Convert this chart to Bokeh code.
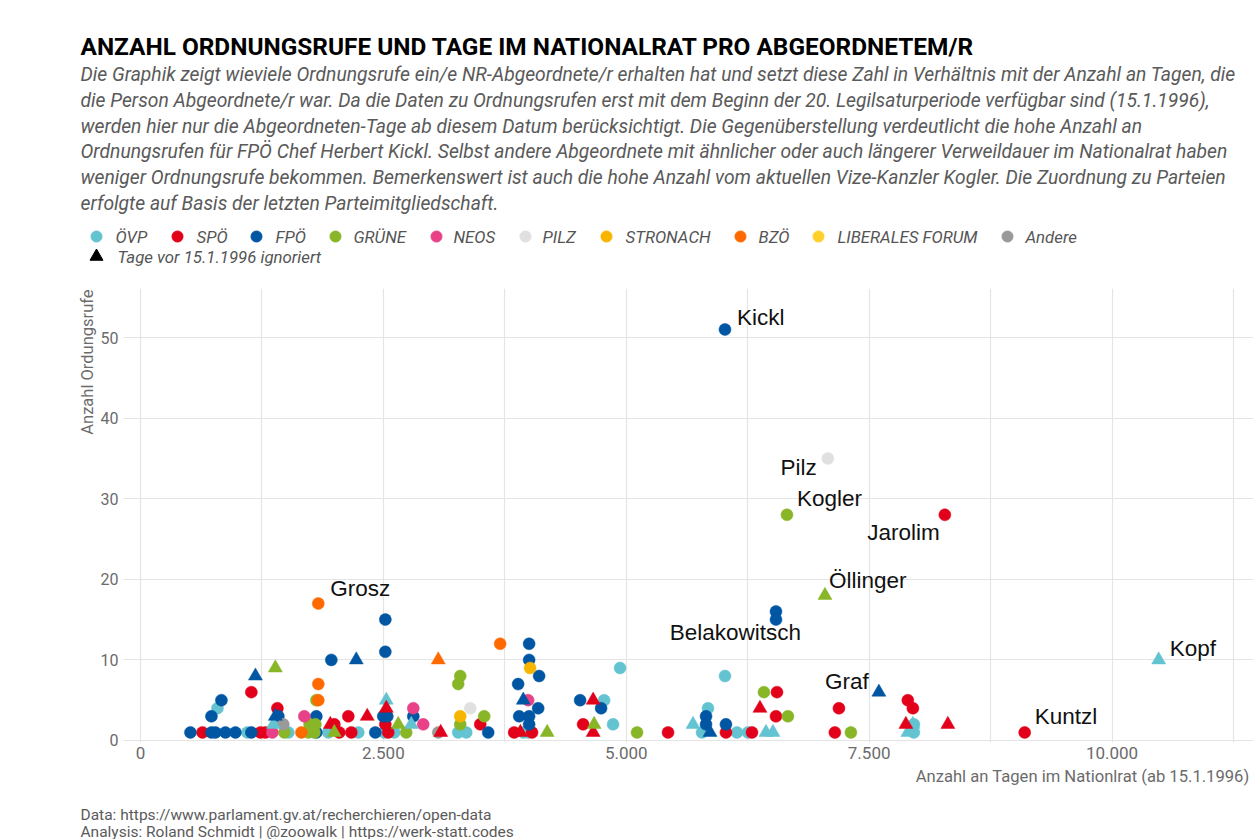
from bokeh.plotting import figure
from bokeh.layouts import column, row
from bokeh.models import ColumnDataSource, FixedTicker, Range1d
from bokeh.transform import factor_cmap
from bokeh.core.properties import value
from bokeh.embed import file_html
from bokeh.resources import INLINE

# ---------------- data: (days since 15.1.1996, calls to order, days before 1996 ignored) -------------
PARTIES = ["ÖVP", "SPÖ", "FPÖ", "GRÜNE", "NEOS", "PILZ", "STRONACH", "BZÖ", "LIBERALES FORUM", "Andere"]
COLORS = ["#63C3D1", "#E2001A", "#0056A2", "#88B626", "#E84188", "#E0E0E0", "#F7B500", "#FF6A00", "#FFD02A", "#999999"]

OEVP = [(792, 4, 0), (1100, 1, 0), (1522, 1, 0), (1933, 1, 0), (2242, 1, 0), (2509, 1, 0), (2612, 1, 0),
        (3270, 1, 0), (3353, 1, 0), (3940, 1, 0), (3990, 1, 0), (4772, 5, 0), (4864, 2, 0), (4936, 9, 0),
        (5780, 1, 0), (5841, 4, 0), (6016, 8, 0), (6139, 1, 0), (6253, 1, 0), (7960, 1, 0), (7960, 2, 0),
        (1368, 2, 1), (2530, 5, 1), (2787, 2, 1), (5687, 2, 1), (6438, 1, 1), (6510, 1, 1), (7898, 1, 1),
        (7950, 2, 1), (10480, 10, 1)]
SPOE = [(638, 1, 0), (1141, 6, 0), (1234, 1, 0), (1285, 1, 0), (1409, 4, 0), (1995, 2, 0), (2046, 1, 0),
        (2139, 3, 0), (2170, 1, 0), (2520, 2, 0), (2550, 1, 0), (3497, 2, 0), (3846, 1, 0), (4030, 1, 0),
        (4556, 2, 0), (5430, 1, 0), (6026, 1, 0), (6294, 1, 0), (6541, 3, 0), (6551, 6, 0), (7147, 1, 0),
        (7189, 4, 0), (7898, 5, 0), (7950, 4, 0), (8279, 28, 0), (9101, 1, 0),
        (1954, 2, 1), (2334, 3, 1), (2530, 4, 1), (3090, 1, 1), (3910, 1, 1), (4659, 5, 1), (4659, 1, 1),
        (6376, 4, 1), (7878, 2, 1), (8310, 2, 1)]
FPOE = [(514, 1, 0), (730, 1, 0), (771, 1, 0), (874, 1, 0), (977, 1, 0), (730, 3, 0), (833, 5, 0),
        (1141, 1, 0), (1419, 3, 0), (1810, 3, 0), (1810, 1, 0), (1964, 10, 0), (2417, 1, 0), (2499, 3, 0),
        (2540, 3, 0), (2520, 15, 0), (2520, 11, 0), (2808, 3, 0), (3579, 1, 0), (3887, 7, 0), (3898, 3, 0),
        (4000, 3, 0), (4000, 12, 0), (4000, 10, 0), (4103, 8, 0), (4093, 4, 0), (4000, 2, 0), (4525, 5, 0),
        (4741, 4, 0), (5821, 3, 0), (5821, 2, 0), (6026, 2, 0), (6016, 51, 0), (6541, 16, 0), (6541, 15, 0),
        (1183, 8, 1), (1388, 3, 1), (2221, 10, 1), (3940, 5, 1), (5862, 1, 1), (7600, 6, 1)]
GRUENE = [(1481, 1, 0), (1728, 1, 0), (1790, 1, 0), (1740, 2, 0), (1800, 2, 0), (1810, 5, 0), (2735, 1, 0),
          (3270, 7, 0), (3291, 8, 0), (3291, 2, 0), (3538, 3, 0), (5111, 1, 0), (6417, 6, 0), (6664, 3, 0),
          (7312, 1, 0), (6654, 28, 0),
          (1388, 9, 1), (1995, 1, 1), (2653, 2, 1), (4186, 1, 1), (4669, 2, 1), (7045, 18, 1)]
NEOS = [(1357, 1, 0), (1686, 3, 0), (2808, 4, 0), (2910, 2, 0), (3990, 5, 0)]
PILZ = [(7075, 35, 0), (3394, 4, 0)]
STRONACH = [(4010, 9, 0), (3291, 3, 0)]
BZOE = [(1830, 17, 0), (1830, 7, 0), (1830, 5, 0), (1656, 1, 0), (3702, 12, 0), (3065, 10, 1)]
LIF = []
ANDERE = [(1470, 2, 0), (3065, 1, 0)]
PARTY_DATA = [OEVP, SPOE, FPOE, GRUENE, NEOS, PILZ, STRONACH, BZOE, LIF, ANDERE]

LABEL_NAMES = ["Kickl", "Pilz", "Kogler", "Jarolim", "Öllinger", "Grosz", "Belakowitsch", "Graf", "Kopf", "Kuntzl"]
LABEL_DAYS = [6016, 7075, 6654, 8279, 7045, 1830, 6541, 7600, 10480, 9101]
LABEL_CALLS = [51, 35, 28, 28, 18, 17, 15, 6, 10, 1]
# text placement (pixels) relative to the point
LABEL_DX = [12, -11, 10, -5, 4, 12, 25, -10, 11, 10]
LABEL_DY = [-12, 9, -16, 18, -15, -15, 13, -11, -11, -16]
LABEL_ALIGN = ["left", "right", "left", "right", "left", "left", "right", "right", "left", "left"]

X_TICKS = [0, 2500, 5000, 7500, 10000]
X_TICK_LABELS = ["0", "2.500", "5.000", "7.500", "10.000"]
X_MINOR = [1250, 3750, 6250, 8750, 11250]
Y_TICKS = [0, 10, 20, 30, 40, 50]

TITLE = "ANZAHL ORDNUNGSRUFE UND TAGE IM NATIONALRAT PRO ABGEORDNETEM/R"
SUBTITLE = [
    "Die Graphik zeigt wieviele Ordnungsrufe ein/e NR-Abgeordnete/r erhalten hat und setzt diese Zahl in Verhältnis mit der Anzahl an Tagen, die",
    "die Person Abgeordnete/r war. Da die Daten zu Ordnungsrufen erst mit dem Beginn der 20. Legilsaturperiode verfügbar sind (15.1.1996),",
    "werden hier nur die Abgeordneten-Tage ab diesem Datum berücksichtigt. Die Gegenüberstellung verdeutlicht die hohe Anzahl an",
    "Ordnungsrufen für FPÖ Chef Herbert Kickl. Selbst andere Abgeordnete mit ähnlicher oder auch längerer Verweildauer im Nationalrat haben",
    "weniger Ordnungsrufe bekommen. Bemerkenswert ist auch die hohe Anzahl vom aktuellen Vize-Kanzler Kogler. Die Zuordnung zu Parteien",
    "erfolgte auf Basis der letzten Parteimitgliedschaft.",
]
X_TITLE = "Anzahl an Tagen im Nationlrat (ab 15.1.1996)"
Y_TITLE = "Anzahl Ordungsrufe"
LEGEND_SHAPE = "Tage vor 15.1.1996 ignoriert"
CAPTION = ["Data: https://www.parlament.gv.at/recherchieren/open-data",
           "Analysis: Roland Schmidt | @zoowalk | https://werk-statt.codes"]

# legend layout (page pixels): key centres and label starts
LEG_KEY_X = [96, 177, 256, 335, 436, 525, 606, 740, 818, 1007]
LEG_LABEL_X = [115, 196, 275, 353, 453, 542, 625, 758, 837, 1025]
LEG_ROW_Y = [236, 256]

# ---------------- build columns ----------------
cx, cy, cp, tx, ty, tp = [], [], [], [], [], []
for name, rows in zip(PARTIES, PARTY_DATA):
    for d, n, pre in rows:
        if pre:
            tx.append(d); ty.append(n); tp.append(name)
        else:
            cx.append(d); cy.append(n); cp.append(name)
src_c = ColumnDataSource(dict(x=cx, y=cy, party=cp))
src_t = ColumnDataSource(dict(x=tx, y=ty, party=tp))
src_l = ColumnDataSource(dict(x=LABEL_DAYS, y=LABEL_CALLS, name=LABEL_NAMES,
                              dx=LABEL_DX, dy=LABEL_DY, align=LABEL_ALIGN))

# ---------------- page geometry ----------------
PAGE_W, PAGE_H = 1253, 839
TOP_H = 288          # title / subtitle / legend band
STRIP_W = 97         # band left of the y tick labels (y title)
MAIN_BL = 25         # room for y tick labels
MAIN_BB = 22         # room for x tick labels
FRAME_H = 454
MAIN_H = FRAME_H + MAIN_BB
BOT_H = PAGE_H - TOP_H - MAIN_H


def band(w, h, y0):
    """A figure whose frame is the whole canvas; coordinates are page pixels."""
    f = figure(width=w, height=h, output_backend="svg", toolbar_location=None,
               x_range=Range1d(0, w), y_range=Range1d(y0 + h, y0),
               x_axis_type=None, y_axis_type=None,
               min_border=0, min_border_left=0, min_border_right=0, min_border_top=0, min_border_bottom=0)
    f.outline_line_color = None
    f.grid.visible = False
    return f


def txt(f, s, x, y, size, color, style="normal", align="left", angle=0, font="Roboto"):
    f.text(x=[x], y=[y], text=[s], text_font=value(font), text_font_size=size, text_font_style=style,
           text_color=color, text_align=align, text_baseline="middle", angle=angle)


# ---------------- top band ----------------
top = band(PAGE_W, TOP_H, 0)
txt(top, TITLE, 80, 46, "24.4px", "#000000", style="bold")
for i, line in enumerate(SUBTITLE):
    txt(top, line, 80, 74 + 25.8 * i, "19.3px", "#5a5a5a", style="italic")

top.scatter(x=LEG_KEY_X, y=[LEG_ROW_Y[0]] * len(PARTIES), marker="circle", size=11,
            fill_color=COLORS, line_color=COLORS)
top.text(x=LEG_LABEL_X, y=[LEG_ROW_Y[0]] * len(PARTIES), text=PARTIES, text_font=value("Roboto"),
         text_font_style="italic", text_font_size="16.8px", text_color="#555555",
         text_align="left", text_baseline="middle")
top.scatter(x=[LEG_KEY_X[0]], y=[LEG_ROW_Y[1]], marker="triangle", size=13, fill_color="black", line_color="black")
txt(top, LEGEND_SHAPE, LEG_LABEL_X[0] + 2, LEG_ROW_Y[1], "16.8px", "#555555", style="italic")

# ---------------- y-title strip ----------------
strip = band(STRIP_W, MAIN_H, TOP_H)
txt(strip, Y_TITLE, 87, 289, "16.5px", "#6b6b6b", align="right", angle=1.5708)

# ---------------- main plot ----------------
p = figure(width=PAGE_W - STRIP_W, height=MAIN_H, output_backend="svg", toolbar_location=None,
           x_range=Range1d(-175, 11456), y_range=Range1d(-0.25, 56.08),
           min_border_left=MAIN_BL, min_border_right=0, min_border_top=0, min_border_bottom=MAIN_BB)
p.outline_line_color = None

GRID = "#e4e4e4"
p.xaxis.ticker = FixedTicker(ticks=X_TICKS, minor_ticks=X_MINOR)
p.xaxis.major_label_overrides = {t: l for t, l in zip(X_TICKS, X_TICK_LABELS)}
p.yaxis.ticker = FixedTicker(ticks=Y_TICKS)
for ax in (p.xaxis, p.yaxis):
    ax.axis_line_color = None
    ax.major_tick_line_color = None
    ax.minor_tick_line_color = None
    ax.major_tick_out = 0
    ax.major_tick_in = 0
    ax.major_label_text_font = "Roboto"
    ax.major_label_text_color = "#6b6b6b"
p.xaxis.major_label_text_font_size = "17px"
p.yaxis.major_label_text_font_size = "16px"
p.xaxis.major_label_standoff = 0
p.yaxis.major_label_standoff = 5
p.xgrid.grid_line_color = GRID
p.xgrid.minor_grid_line_color = GRID
p.ygrid.grid_line_color = GRID
p.xgrid.grid_line_width = 1.2
p.xgrid.minor_grid_line_width = 1.2
p.ygrid.grid_line_width = 1.2

cmap_c = factor_cmap("party", palette=COLORS, factors=PARTIES)
p.scatter("x", "y", source=src_c, marker="circle", size=12, fill_color=cmap_c, line_color=cmap_c, line_width=0.5)
p.scatter("x", "y", source=src_t, marker="triangle", size=14, fill_color=cmap_c, line_color=cmap_c, line_width=0.5)

p.text("x", "y", text="name", source=src_l, x_offset="dx", y_offset="dy", text_align="align",
       text_baseline="middle", text_font=value("Liberation Sans"), text_font_size="22.5px", text_color="#111111")

# ---------------- bottom band ----------------
bot = band(PAGE_W, BOT_H, TOP_H + MAIN_H)
txt(bot, X_TITLE, 1249, 776, "16.6px", "#6b6b6b", align="right")
txt(bot, CAPTION[0], 80, 814, "15.5px", "#5a5a5a")
txt(bot, CAPTION[1], 80, 831, "15.5px", "#5a5a5a")

layout = column(top, row(strip, p), bot)
open("out.html", "w").write(file_html(layout, INLINE))
